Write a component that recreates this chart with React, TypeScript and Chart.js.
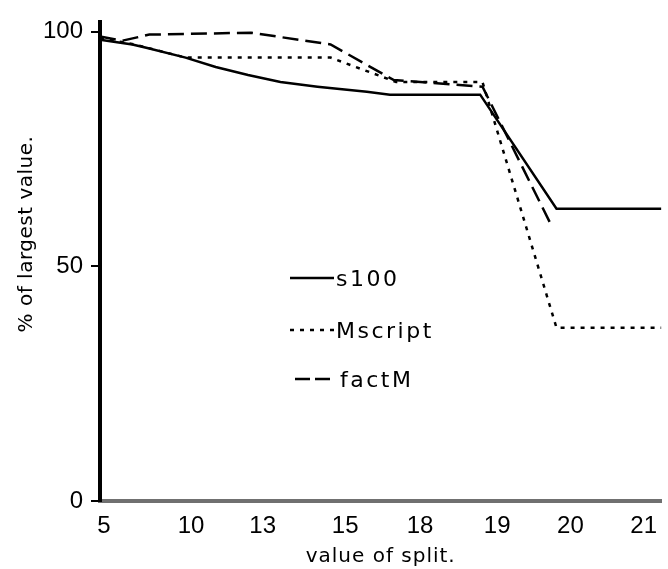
import React, { useEffect, useRef } from 'react';
import { Chart, registerables } from 'chart.js';

Chart.register(...registerables);

// Split values shown along the x axis and where each label sits on it
const splitLabels = ['5', '10', '13', '15', '18', '19', '20', '21'];
const splitTickPos = [0, 1.13, 2.06, 3.13, 4.1, 5.1, 6.05, 7.0];
const yTickValues = [0, 50, 100];

// Each series: position along the split axis and % of largest value
const s100Pos = [-0.05, 0.37, 0.55, 1.06, 1.45, 1.87, 2.29, 2.77, 3.41, 3.71, 4.88, 5.87, 7.23];
const s100Pct = [98.3, 97.3, 96.6, 94.5, 92.5, 90.8, 89.3, 88.3, 87.2, 86.6, 86.6, 62.3, 62.3];

const mscriptPos = [-0.05, 0.4, 1.06, 2.94, 3.79, 4.91, 5.87, 7.23];
const mscriptPct = [98.7, 97.3, 94.5, 94.5, 89.3, 89.3, 36.9, 36.9];

const factMPos = [-0.05, 0.24, 0.59, 1.91, 2.94, 3.76, 4.91, 5.81];
const factMPct = [99.0, 98.1, 99.4, 99.8, 97.3, 89.7, 88.3, 58.5];

const SOLID: number[] = [];
const DOTTED = [4, 6];
const DASHED = [16, 7];

const toPoints = (xs: number[], ys: number[]) => xs.map((x, i) => ({ x, y: ys[i] }));

const TEXT_FONT = '"DejaVu Sans", sans-serif';
const TICK_FONT = '"Liberation Sans", Arial, sans-serif';

// Draws the inline legend and both axis titles
const decorPlugin = {
  id: 'decor',
  afterDraw(chart: any) {
    const { ctx, chartArea } = chart;
    ctx.save();
    ctx.fillStyle = '#000';
    ctx.strokeStyle = '#000';

    const items = [
      { label: 's100', dash: SOLID, x0: 290, x1: 334, tx: 336, y: 278 },
      { label: 'Mscript', dash: DOTTED, x0: 290, x1: 334, tx: 336, y: 330 },
      { label: 'factM', dash: [15, 5], x0: 295, x1: 334, tx: 340, y: 379 },
    ];
    ctx.font = `22px ${TEXT_FONT}`;
    (ctx as any).letterSpacing = '2.5px';
    ctx.textAlign = 'left';
    ctx.textBaseline = 'middle';
    for (const it of items) {
      ctx.beginPath();
      ctx.setLineDash(it.dash);
      ctx.lineWidth = 2.5;
      ctx.moveTo(it.x0, it.y);
      ctx.lineTo(it.x1, it.y);
      ctx.stroke();
      ctx.fillText(it.label, it.tx, it.y + 2);
    }
    ctx.setLineDash([]);

    ctx.font = `20px ${TEXT_FONT}`;
    (ctx as any).letterSpacing = '1px';
    ctx.textAlign = 'center';
    ctx.fillText('value of split.', (chartArea.left + chartArea.right) / 2, 557);

    (ctx as any).letterSpacing = '0.5px';
    ctx.translate(27, 234);
    ctx.rotate(-Math.PI / 2);
    ctx.fillText('% of largest value.', 0, 0);
    ctx.restore();
  },
};

export default function App() {
  const canvasRef = useRef<HTMLCanvasElement | null>(null);

  useEffect(() => {
    document.body.style.margin = '0';
    const canvas = canvasRef.current;
    if (!canvas) return;

    const chart = new Chart(canvas, {
      type: 'line',
      data: {
        datasets: [
          {
            label: 's100',
            data: toPoints(s100Pos, s100Pct),
            borderColor: '#000',
            borderWidth: 2.5,
            borderDash: SOLID,
            pointRadius: 0,
            tension: 0,
          },
          {
            label: 'Mscript',
            data: toPoints(mscriptPos, mscriptPct),
            borderColor: '#000',
            borderWidth: 2.5,
            borderDash: DOTTED,
            pointRadius: 0,
            tension: 0,
          },
          {
            label: 'factM',
            data: toPoints(factMPos, factMPct),
            borderColor: '#000',
            borderWidth: 2.5,
            borderDash: DASHED,
            pointRadius: 0,
            tension: 0,
          },
        ],
      },
      options: {
        responsive: false,
        animation: false,
        layout: { padding: { top: 14, right: 0, left: 0, bottom: 0 } },
        plugins: {
          legend: { display: false },
          tooltip: { enabled: false },
        },
        scales: {
          x: {
            type: 'linear',
            min: -0.05,
            max: 7.23,
            afterBuildTicks: (axis: any) => {
              axis.ticks = splitTickPos.map((v) => ({ value: v }));
            },
            afterFit: (axis: any) => {
              axis.height = 68;
            },
            ticks: {
              autoSkip: false,
              maxRotation: 0,
              padding: 11,
              color: '#000',
              font: { family: TICK_FONT, size: 24 },
              callback: (_v: any, i: number) => splitLabels[i] ?? '',
            },
            grid: { display: true, drawOnChartArea: false, drawTicks: false },
            border: { display: true, color: '#707070', width: 4 },
          },
          y: {
            type: 'linear',
            min: 0,
            max: 102,
            afterBuildTicks: (axis: any) => {
              axis.ticks = yTickValues.map((v) => ({ value: v }));
            },
            afterFit: (axis: any) => {
              axis.width = 100;
            },
            ticks: {
              padding: 8,
              color: '#000',
              font: { family: TICK_FONT, size: 24 },
            },
            grid: {
              drawOnChartArea: false,
              drawTicks: true,
              tickLength: 9,
              color: '#000',
              lineWidth: 2,
            },
            border: { display: true, color: '#000', width: 4 },
          },
        },
      },
      plugins: [decorPlugin],
    });

    return () => chart.destroy();
  }, []);

  return (
    <div style={{ width: 668, height: 569, background: '#fff' }}>
      <canvas ref={canvasRef} width={668} height={569} />
    </div>
  );
}
